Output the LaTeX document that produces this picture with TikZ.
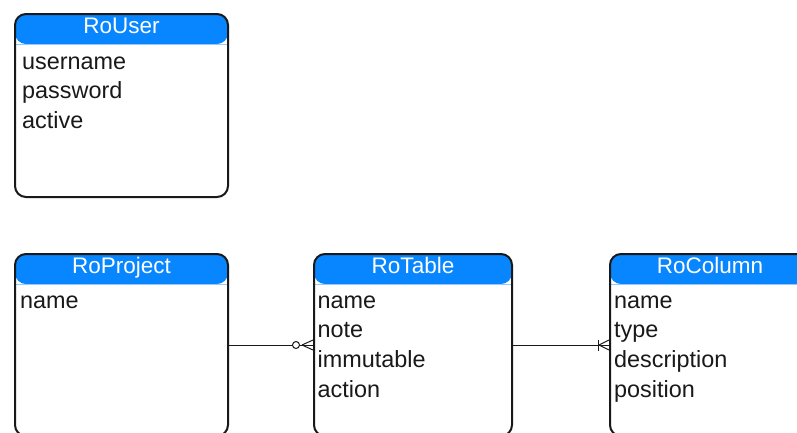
\documentclass[tikz,border=0pt]{standalone}
\usepackage{fontspec}
\setmainfont{Liberation Sans}
\usetikzlibrary{calc}

\definecolor{hdrblue}{RGB}{8,134,255}
\definecolor{hdrline}{RGB}{150,200,255}
\definecolor{ink}{RGB}{25,25,25}

\tikzset{
  entity/.style={draw=ink, line width=2pt, rounded corners=11pt,
    anchor=north west, inner sep=0pt, fill=white,
    path picture={
      \fill[hdrblue] (path picture bounding box.north west)
        rectangle ([yshift=-30pt]path picture bounding box.north east);
      \draw[hdrline, line width=1pt]
        ([yshift=-30pt]path picture bounding box.north west)
        -- ([yshift=-30pt]path picture bounding box.north east);
    }},
  etitle/.style={text=white, font=\fontsize{22.5}{27}\selectfont,
    anchor=base, inner sep=0pt},
  efield/.style={text=ink, font=\fontsize{23.4}{28}\selectfont,
    anchor=base west, inner sep=0pt},
  link/.style={draw=ink, line width=1pt},
}

\begin{document}
\begin{tikzpicture}[x=1pt, y=-1pt]
  \useasboundingbox (0,0) rectangle (797,432);
  \clip (0,0) rectangle (797,432);
  \fill[white] (0,0) rectangle (797,432);

  % entity boxes
  \node[entity, minimum width=213pt, minimum height=183pt] (user) at (14,13) {};
  \node[entity, minimum width=213pt, minimum height=182pt] (project) at (14,253) {};
  \node[entity, minimum width=198pt, minimum height=182pt] (table) at (313,253) {};
  \node[entity, minimum width=200pt, minimum height=182pt] (column) at (609,253) {};

  % titles
  \node[etitle] (user-title)    at ($(user.north)+(0,20.3)$) {RoUser};
  \node[etitle] (project-title) at ($(project.north)+(0,20.3)$) {RoProject};
  \node[etitle] (table-title)   at ($(table.north)+(0,20.3)$) {RoTable};
  \node[etitle] (column-title)  at ($(column.north)+(0,20.3)$) {RoColumn};

  % attributes
  \foreach \f [count=\i] in {username,password,active}
    \node[efield] (user-f\i) at ($(user.north west)+(8,{56+29.7*(\i-1)})$) {\f};
  \foreach \f [count=\i] in {name}
    \node[efield] (project-f\i) at ($(project.north west)+(6,{55+29.7*(\i-1)})$) {\f};
  \foreach \f [count=\i] in {name,note,immutable,action}
    \node[efield] (table-f\i) at ($(table.north west)+(4.5,{55+29.7*(\i-1)})$) {\f};
  \foreach \f [count=\i] in {name,type,description,position}
    \node[efield] (column-f\i) at ($(column.north west)+(5,{55+29.7*(\i-1)})$) {\f};

  % RoProject -- RoTable : zero or many
  \draw[link] (project.east) -- (table.west);
  \coordinate (pt-foot) at ($(table.west)+(-11,0)$);
  \draw[link] (pt-foot) -- ($(table.west)+(0,-5)$)
              (pt-foot) -- ($(table.west)+(0,5)$);
  \draw[link, fill=white] ($(table.west)+(-17,0)$) circle (3.5pt);

  % RoTable -- RoColumn : one or many
  \draw[link] (table.east) -- (column.west);
  \coordinate (tc-foot) at ($(column.west)+(-10,0)$);
  \draw[link] (tc-foot) -- ($(column.west)+(0,-5)$)
              (tc-foot) -- ($(column.west)+(0,5)$);
  \draw[link] ($(column.west)+(-11,-5.5)$) -- ($(column.west)+(-11,5.5)$);
\end{tikzpicture}
\end{document}
